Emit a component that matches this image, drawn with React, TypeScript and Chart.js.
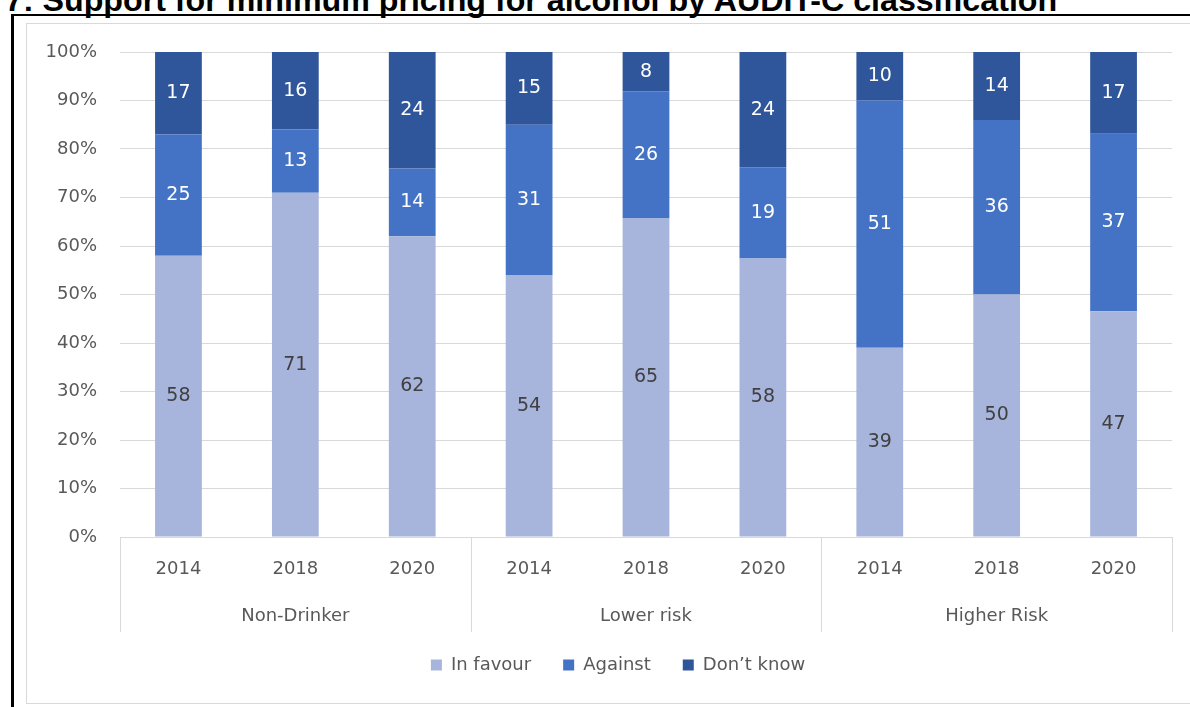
import { useEffect, useRef } from "react";
import { Chart, registerables } from "chart.js";

Chart.register(...registerables);

// Survey year per bar, and the AUDIT-C group each bar belongs to
const years = ["2014", "2018", "2020", "2014", "2018", "2020", "2014", "2018", "2020"];
const categoryGroups = [
  "Non-Drinker", "Non-Drinker", "Non-Drinker",
  "Lower risk", "Lower risk", "Lower risk",
  "Higher Risk", "Higher Risk", "Higher Risk",
];

// Responses (%)
const inFavour = [58, 71, 62, 54, 65, 58, 39, 50, 47];
const against = [25, 13, 14, 31, 26, 19, 51, 36, 37];
const dontKnow = [17, 16, 24, 15, 8, 24, 10, 14, 17];

const seriesNames = ["In favour", "Against", "Don\u2019t know"];
const seriesValues = [inFavour, against, dontKnow];
const seriesColors = ["#A7B4DB", "#4472C4", "#2F559A"];
const labelColors = ["#404040", "#FFFFFF", "#FFFFFF"];

const TITLE = "7: Support for minimum pricing for alcohol by AUDIT-C classification";
const FONT = "'DejaVu Sans', 'Open Sans', sans-serif";
const GRID = "#D9D9D9";
const TEXT = "#595959";

// 100% stacked: each bar is scaled by its column total
const totals = years.map((_, i) => seriesValues.reduce((s, arr) => s + arr[i], 0));
const shares = seriesValues.map((arr) => arr.map((v, i) => (v / totals[i]) * 100));

// widen the y scale's label area to the left so the percentage labels are not clipped
const yLabelRoom = {
  id: "yLabelRoom",
  afterLayout(chart: any) {
    const y = chart.scales.y;
    if (y) y.left = Math.max(0, y.left - 50);
  },
};

const valueLabels = {
  id: "valueLabels",
  afterDatasetsDraw(chart: any) {
    const ctx = chart.ctx;
    ctx.save();
    ctx.font = `19px ${FONT}`;
    ctx.textAlign = "center";
    ctx.textBaseline = "middle";
    chart.data.datasets.forEach((_: any, di: number) => {
      const meta = chart.getDatasetMeta(di);
      ctx.fillStyle = labelColors[di];
      meta.data.forEach((bar: any, i: number) => {
        const { x, y, base } = bar.getProps(["x", "y", "base"], true);
        ctx.fillText(String(seriesValues[di][i]), x, (y + base) / 2);
      });
    });
    ctx.restore();
  },
};

const groupAxis = {
  id: "groupAxis",
  afterDraw(chart: any) {
    const { ctx, chartArea } = chart;
    const xs = chart.scales.x;
    const bottom = chartArea.bottom;
    // runs of consecutive categories sharing a group
    const runs: { name: string; start: number; end: number }[] = [];
    categoryGroups.forEach((g, i) => {
      const last = runs[runs.length - 1];
      if (last && last.name === g) last.end = i;
      else runs.push({ name: g, start: i, end: i });
    });
    ctx.save();
    ctx.strokeStyle = GRID;
    ctx.lineWidth = 1;
    const edges: number[] = [chartArea.left];
    runs.forEach((r, k) => {
      if (k < runs.length - 1) {
        edges.push((xs.getPixelForValue(r.end) + xs.getPixelForValue(r.end + 1)) / 2);
      }
    });
    edges.push(chartArea.right);
    edges.forEach((ex) => {
      const px = Math.round(ex) + 0.5;
      ctx.beginPath();
      ctx.moveTo(px, bottom);
      ctx.lineTo(px, bottom + 95);
      ctx.stroke();
    });
    ctx.font = `18px ${FONT}`;
    ctx.fillStyle = TEXT;
    ctx.textAlign = "center";
    ctx.textBaseline = "middle";
    runs.forEach((r) => {
      const cx = (xs.getPixelForValue(r.start) + xs.getPixelForValue(r.end)) / 2;
      ctx.fillText(r.name, cx, bottom + 79);
    });
    ctx.restore();
  },
};

export default function App() {
  const canvasRef = useRef<HTMLCanvasElement | null>(null);

  useEffect(() => {
    if (!canvasRef.current) return;
    const chart = new Chart(canvasRef.current, {
      type: "bar",
      data: {
        labels: years,
        datasets: seriesNames.map((name, di) => ({
          label: name,
          data: shares[di],
          backgroundColor: seriesColors[di],
          borderWidth: 0,
          categoryPercentage: 1,
          barPercentage: 0.4,
        })),
      },
      options: {
        responsive: false,
        animation: false,
        layout: { padding: { left: 64, right: 18, top: 52, bottom: 23 } },
        plugins: {
          tooltip: { enabled: false },
          legend: {
            position: "bottom",
            labels: {
              boxWidth: 11,
              boxHeight: 11,
              padding: 32,
              color: TEXT,
              font: { family: FONT, size: 18 },
            },
          },
        },
        scales: {
          x: {
            stacked: true,
            grid: { display: false },
            border: { display: true, color: GRID },
            ticks: { color: TEXT, font: { family: FONT, size: 18 }, padding: 14, maxRotation: 0 },
            afterFit(scale: any) {
              scale.height = 87;
            },
          },
          y: {
            stacked: true,
            min: 0,
            max: 100,
            border: { display: false },
            grid: { color: GRID, drawTicks: false },
            ticks: {
              stepSize: 10,
              color: TEXT,
              padding: 23,
              font: { family: FONT, size: 18 },
              callback: (v: any) => `${v}%`,
            },
            afterFit(scale: any) {
              scale.width = 56;
            },
          },
        },
      },
      plugins: [yLabelRoom, valueLabels, groupAxis],
    });
    return () => chart.destroy();
  }, []);

  return (
    <div style={{ position: "absolute", left: 0, top: 0, width: 1190, height: 707, overflow: "hidden", background: "#FFFFFF" }}>
      <div
        style={{
          position: "absolute",
          left: 5,
          top: -16,
          fontFamily: "'Liberation Sans', Arial, sans-serif",
          fontWeight: "bold",
          fontSize: 32.2,
          lineHeight: 1,
          whiteSpace: "nowrap",
          color: "#000000",
        }}
      >
        {TITLE}
      </div>
      <div
        style={{
          position: "absolute",
          left: 11,
          top: 14,
          width: 1200,
          height: 720,
          borderLeft: "3px solid #000000",
          borderTop: "2px solid #000000",
        }}
      />
      <div
        style={{
          position: "absolute",
          left: 26,
          top: 23,
          width: 1200,
          height: 681,
          border: "1px solid #D9D9D9",
          boxSizing: "border-box",
        }}
      />
      <canvas ref={canvasRef} width={1190} height={707} style={{ position: "absolute", left: 0, top: 0 }} />
    </div>
  );
}
